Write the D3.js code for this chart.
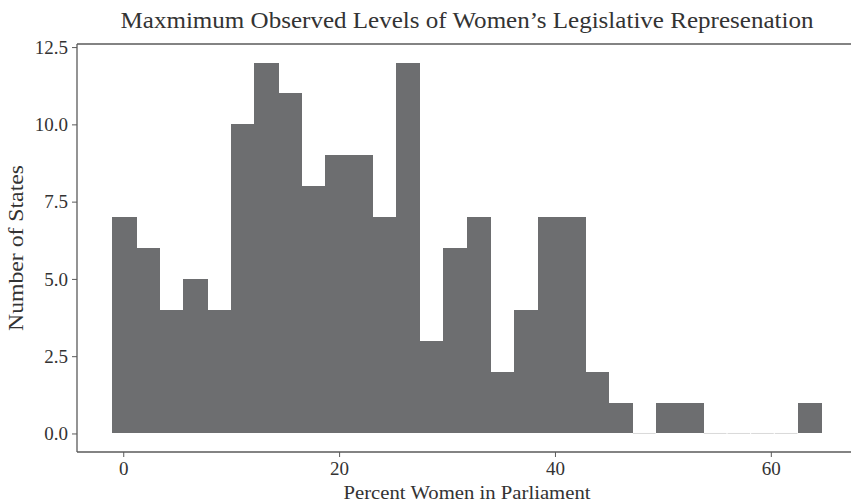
<!DOCTYPE html>
<html>
<head>
<meta charset="utf-8">
<script src="https://cdn.jsdelivr.net/npm/d3@7"></script>
<style>
  html, body { margin: 0; padding: 0; background: #fff; }
  svg text { font-family: "Liberation Serif", "DejaVu Serif", serif; fill: #333; }
</style>
</head>
<body>
<div id="chart"></div>
<script>
// histogram counts per bin (30 bins)
const counts = [7, 6, 4, 5, 4, 10, 12, 11, 8, 9, 9, 7, 12, 3, 6, 7, 2, 4, 7, 7, 2, 1, 0, 1, 1, 0, 0, 0, 0, 1];
const binRange = [-1.0, 64.7];
const xTicks = [0, 20, 40, 60];
const yTicks = [0, 2.5, 5, 7.5, 10, 12.5];

const width = 851, height = 502;
const margin = { top: 44, right: -6, bottom: 50, left: 77 };

const svg = d3.select('#chart')
    .append('svg')
    .attr('width', width)
    .attr('height', height);

// bin edges
const binW = (binRange[1] - binRange[0]) / counts.length;
const bins = counts.map((c, i) => ({ x0: binRange[0] + i * binW, x1: binRange[0] + (i + 1) * binW, count: c }));

// 5% margins like matplotlib
const xPad = (binRange[1] - binRange[0]) * 0.05;
const yMax = d3.max(counts);
const x = d3.scaleLinear()
    .domain([binRange[0] - xPad, binRange[1] + xPad])
    .range([margin.left, width - margin.right]);
const y = d3.scaleLinear()
    .domain([-yMax * 0.05, yMax * 1.05])
    .range([height - margin.bottom, margin.top]);

// bars
svg.append('g')
    .attr('shape-rendering', 'crispEdges')
    .selectAll('rect')
    .data(bins.filter(d => d.count > 0))
    .enter()
    .append('rect')
    .attr('x', d => x(d.x0))
    .attr('width', d => x(d.x1) - x(d.x0) + 0.6)
    .attr('y', d => y(d.count))
    .attr('height', d => y(0) - y(d.count))
    .attr('fill', '#6d6e70');

// empty bins just leave a faint edge on the baseline
svg.append('g')
    .selectAll('line')
    .data(bins.filter(d => d.count === 0))
    .enter()
    .append('line')
    .attr('x1', d => x(d.x0) + 0.5)
    .attr('x2', d => x(d.x1) - 0.5)
    .attr('y1', y(0))
    .attr('y2', y(0))
    .attr('stroke', '#d9d9d9')
    .attr('stroke-width', 1);

// axes
const xAxis = svg.append('g')
    .attr('transform', `translate(0,${height - margin.bottom})`)
    .call(d3.axisBottom(x).tickValues(xTicks).tickSize(5).tickPadding(5).tickFormat(d3.format('d')));
const yAxis = svg.append('g')
    .attr('transform', `translate(${margin.left},0)`)
    .call(d3.axisLeft(y).tickValues(yTicks).tickSize(5).tickPadding(4).tickFormat(d3.format('.1f')));

[xAxis, yAxis].forEach(ax => {
    ax.select('.domain').attr('stroke', '#5a5a5a').attr('stroke-width', 1.3);
    ax.selectAll('.tick line').attr('stroke', '#5a5a5a').attr('stroke-width', 1);
    ax.selectAll('.tick text')
        .style('font-family', '"Liberation Serif", "DejaVu Serif", serif')
        .style('font-size', '19px')
        .attr('fill', '#333');
});
xAxis.select('.domain').attr('d', `M${margin.left},0H${width}`);
yAxis.select('.domain').attr('d', `M0,${margin.top}V${height - margin.bottom}`);

// top spine
svg.append('line')
    .attr('x1', margin.left).attr('x2', width)
    .attr('y1', margin.top).attr('y2', margin.top)
    .attr('stroke', '#5a5a5a').attr('stroke-width', 1.3);

// titles
svg.append('text')
    .attr('x', 467).attr('y', 28)
    .attr('text-anchor', 'middle')
    .attr('textLength', 693)
    .attr('lengthAdjust', 'spacingAndGlyphs')
    .style('font-size', '24px')
    .text('Maxmimum Observed Levels of Women’s Legislative Represenation');

svg.append('text')
    .attr('x', 467).attr('y', 499)
    .attr('text-anchor', 'middle')
    .attr('textLength', 247)
    .attr('lengthAdjust', 'spacingAndGlyphs')
    .style('font-size', '19px')
    .text('Percent Women in Parliament');

svg.append('text')
    .attr('transform', 'translate(23,248) rotate(-90)')
    .attr('text-anchor', 'middle')
    .attr('textLength', 166)
    .attr('lengthAdjust', 'spacingAndGlyphs')
    .style('font-size', '22px')
    .text('Number of States');
</script>
</body>
</html>
